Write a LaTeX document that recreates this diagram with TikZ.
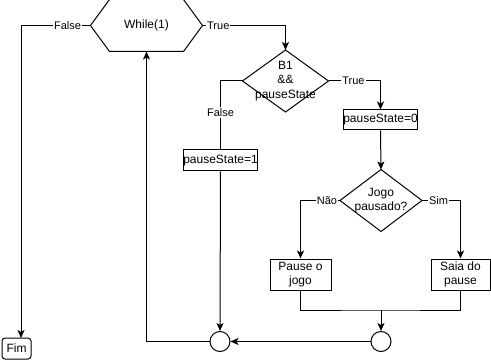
\documentclass[tikz,border=0pt]{standalone}
\usepackage{fontspec}
\setmainfont{Liberation Sans}
\usetikzlibrary{arrows.meta}
\begin{document}
\begin{tikzpicture}[x=1pt,y=-1pt,
  line width=1pt,
  every node/.style={font=\fontsize{12}{14.5}\selectfont, inner sep=0pt, align=center},
  box/.style={draw, minimum width=#1, minimum height=21},
  shapebox/.style={minimum width=#1, minimum height=61},
  joint/.style={draw, circle, minimum size=20},
  lbl/.style={font=\fontsize{11}{13}\selectfont, fill=white, inner sep=1pt},
  flow/.style={-{Stealth[length=8pt,width=7pt,inset=2pt]}}
]
\useasboundingbox (0,0) rectangle (491,361);

% loop header
\node (hex) [minimum width=111, minimum height=51] at (146.5,25.5) {While(1)};
\draw ([xshift=19pt]hex.north west) -- ([xshift=-19pt]hex.north east) -- (hex.east)
  -- ([xshift=-19pt]hex.south east) -- ([xshift=19pt]hex.south west) -- (hex.west) -- cycle;

% first decision
\node (d1) [shapebox=85] at (285.5,81) {B1\\\&\&\\pauseState};
\draw (d1.north) -- (d1.east) -- (d1.south) -- (d1.west) -- cycle;

\node (ps0) [box=71, minimum height=20] at (380.5,120) {pauseState=0};
\node (ps1) [box=71] at (220.5,160.5) {pauseState=1};

% second decision
\node (d2) [shapebox=81] at (381,200.5) {Jogo\\pausado?};
\draw (d2.north) -- (d2.east) -- (d2.south) -- (d2.west) -- cycle;

\node (pause) [box=61, minimum height=31] at (300.5,274.5) {Pause o\\jogo};
\node (saia) [box=59, minimum height=31] at (460.5,274.5) {Saia do\\pause};

\node (c1) [joint] at (220,341.5) {};
\node (c2) [joint] at (381,341.5) {};

\node (fim) [draw, rounded corners=3pt, minimum width=29, minimum height=21] at (16.5,348.5) {Fim};

% connectors
\coordinate (fimtop) at (21,338);
\draw[flow] (hex.west) -- node[lbl, pos=0.33] {False} (fimtop |- hex.west) -- (fimtop);
\draw[flow] (hex.east) -- node[lbl, pos=0.19] {True} (d1.north |- hex.east) -- (d1.north);
\draw[flow] (d1.east) -- node[lbl, pos=0.48] {True} (ps0.north |- d1.east) -- (ps0.north);
\draw (d1.west) -- (ps1.north |- d1.west) -- node[lbl, pos=0.46] {False} (ps1.north);
\draw[flow] (ps0.south) -- (d2.north);
\draw[flow] (d2.west) -- node[lbl, pos=0.33] {Não} (pause.north |- d2.west) -- (pause.north);
\draw[flow] (d2.east) -- node[lbl, pos=0.43] {Sim} (saia.north |- d2.east) -- (saia.north);
\coordinate (join) at (381,310);
\draw (pause.south) |- (join) -| (saia.south);
\draw[flow] (join) -- (c2.north);
\draw[flow] (c2.west) -- (c1.east);
\draw[flow] (ps1.south) -- (c1.north);
\draw[flow] (c1.west) -| (hex.south);
\end{tikzpicture}
\end{document}
